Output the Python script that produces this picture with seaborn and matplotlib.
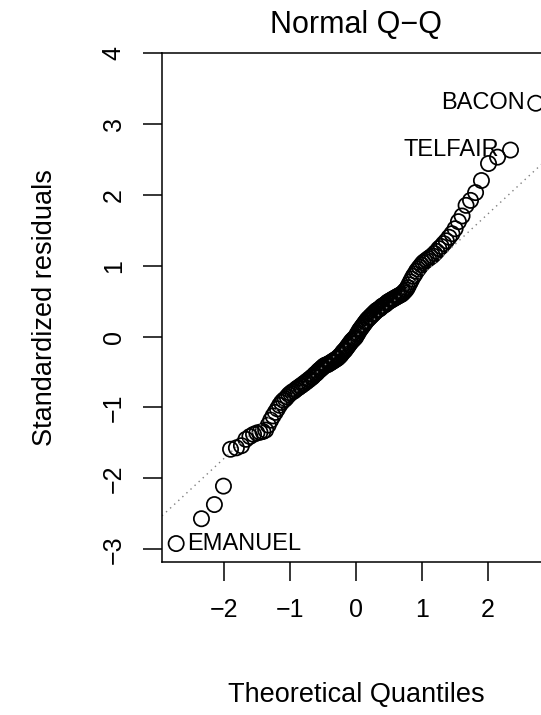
import numpy as np
import pandas as pd
import seaborn as sns
import matplotlib
matplotlib.use("Agg")
import matplotlib.pyplot as plt
from statistics import NormalDist

# sorted standardized residuals (159 Georgia counties)
resid_sorted = [
    -2.92, -2.57, -2.37, -2.11, -1.59, -1.57, -1.54, -1.45, -1.41, -1.38,
    -1.36, -1.35, -1.34, -1.32, -1.25, -1.18, -1.12, -1.07, -1.02, -0.97,
    -0.93, -0.90, -0.88, -0.85, -0.82, -0.80, -0.78, -0.77, -0.75, -0.73,
    -0.72, -0.70, -0.69, -0.67, -0.66, -0.64, -0.63, -0.61, -0.60, -0.58,
    -0.57, -0.55, -0.53, -0.52, -0.50, -0.48, -0.47, -0.45, -0.44, -0.42,
    -0.41, -0.40, -0.40, -0.39, -0.38, -0.37, -0.36, -0.35, -0.34, -0.33,
    -0.32, -0.31, -0.30, -0.28, -0.27, -0.25, -0.23, -0.21, -0.20, -0.18,
    -0.16, -0.14, -0.12, -0.10, -0.08, -0.06, -0.05, -0.03, -0.02, 0.00,
    0.03, 0.05, 0.08, 0.10, 0.12, 0.14, 0.16, 0.18, 0.20, 0.22,
    0.24, 0.25, 0.27, 0.28, 0.30, 0.31, 0.33, 0.34, 0.36, 0.37,
    0.38, 0.39, 0.40, 0.42, 0.43, 0.44, 0.45, 0.46, 0.48, 0.49,
    0.50, 0.51, 0.52, 0.53, 0.54, 0.55, 0.56, 0.57, 0.58, 0.59,
    0.60, 0.62, 0.64, 0.66, 0.69, 0.73, 0.77, 0.81, 0.85, 0.88,
    0.92, 0.95, 0.98, 1.01, 1.04, 1.06, 1.08, 1.10, 1.12,
    1.14, 1.17, 1.20, 1.24, 1.27, 1.31, 1.35, 1.40, 1.45, 1.52,
    1.62, 1.70, 1.85, 1.92, 2.03, 2.20, 2.44, 2.53, 2.63, 3.29,
]
# labelled points: rank in sorted order -> county
labels = {0: "EMANUEL", 157: "TELFAIR", 158: "BACON"}

x_ticks = [-2, -1, 0, 1, 2]
y_ticks = [-3, -2, -1, 0, 1, 2, 3, 4]

n = len(resid_sorted)
nd = NormalDist()
theo = [nd.inv_cdf((i + 0.5) / n) for i in range(n)]  # ppoints, a = 0.5
df = pd.DataFrame({"theo": theo, "resid": resid_sorted})

sns.set_style("white")
plt.rcParams["font.family"] = ["Liberation Sans", "DejaVu Sans"]
plt.rcParams["text.color"] = "black"
plt.rcParams["axes.labelcolor"] = "black"

fig = plt.figure(figsize=(5.41, 7.15), dpi=100)
ax = fig.add_axes([0.2994, 0.214, 0.7172, 0.712])

sns.scatterplot(data=df, x="theo", y="resid", ax=ax, marker="o", s=120,
                facecolor="none", edgecolor="black", linewidth=1.25)

# qqline through the quartiles
q1, q3 = np.quantile(df["resid"], [0.25, 0.75])
z1, z3 = nd.inv_cdf(0.25), nd.inv_cdf(0.75)
slope = (q3 - q1) / (z3 - z1)
icpt = q1 - slope * z1
ax.axline((0, icpt), slope=slope, color="gray", lw=1.0, ls=(0, (1, 3)))

for i, name in labels.items():
    xo = 8 if theo[i] < 0 else -8
    ax.annotate(name, (theo[i], resid_sorted[i]), xytext=(xo, 0),
                textcoords="offset points", ha="left" if xo > 0 else "right",
                va="center", fontsize=17, color="black")

ax.set_xlim(-2.948, 2.948)
ax.set_ylim(-3.18, 4.0)
ax.set_xticks(x_ticks)
ax.set_yticks(y_ticks)
ax.tick_params(direction="out", length=14, width=1.1, labelsize=18, pad=12,
               bottom=True, left=True, colors="black")
plt.setp(ax.get_yticklabels(), rotation=90, va="center")
for sp in ax.spines.values():
    sp.set_color("black")
    sp.set_linewidth(1.1)

ax.set_xlabel("Theoretical Quantiles", fontsize=19.5, va="center", color="black")
ax.xaxis.set_label_coords(0.5, -0.261)
ax.set_ylabel("Standardized residuals", fontsize=19.5, va="center", color="black")
ax.yaxis.set_label_coords(-0.3015, 0.5)
ax.set_title("Normal Q\u2212Q", fontsize=22, pad=14, color="black")

plt.savefig("out.png", dpi=100)
